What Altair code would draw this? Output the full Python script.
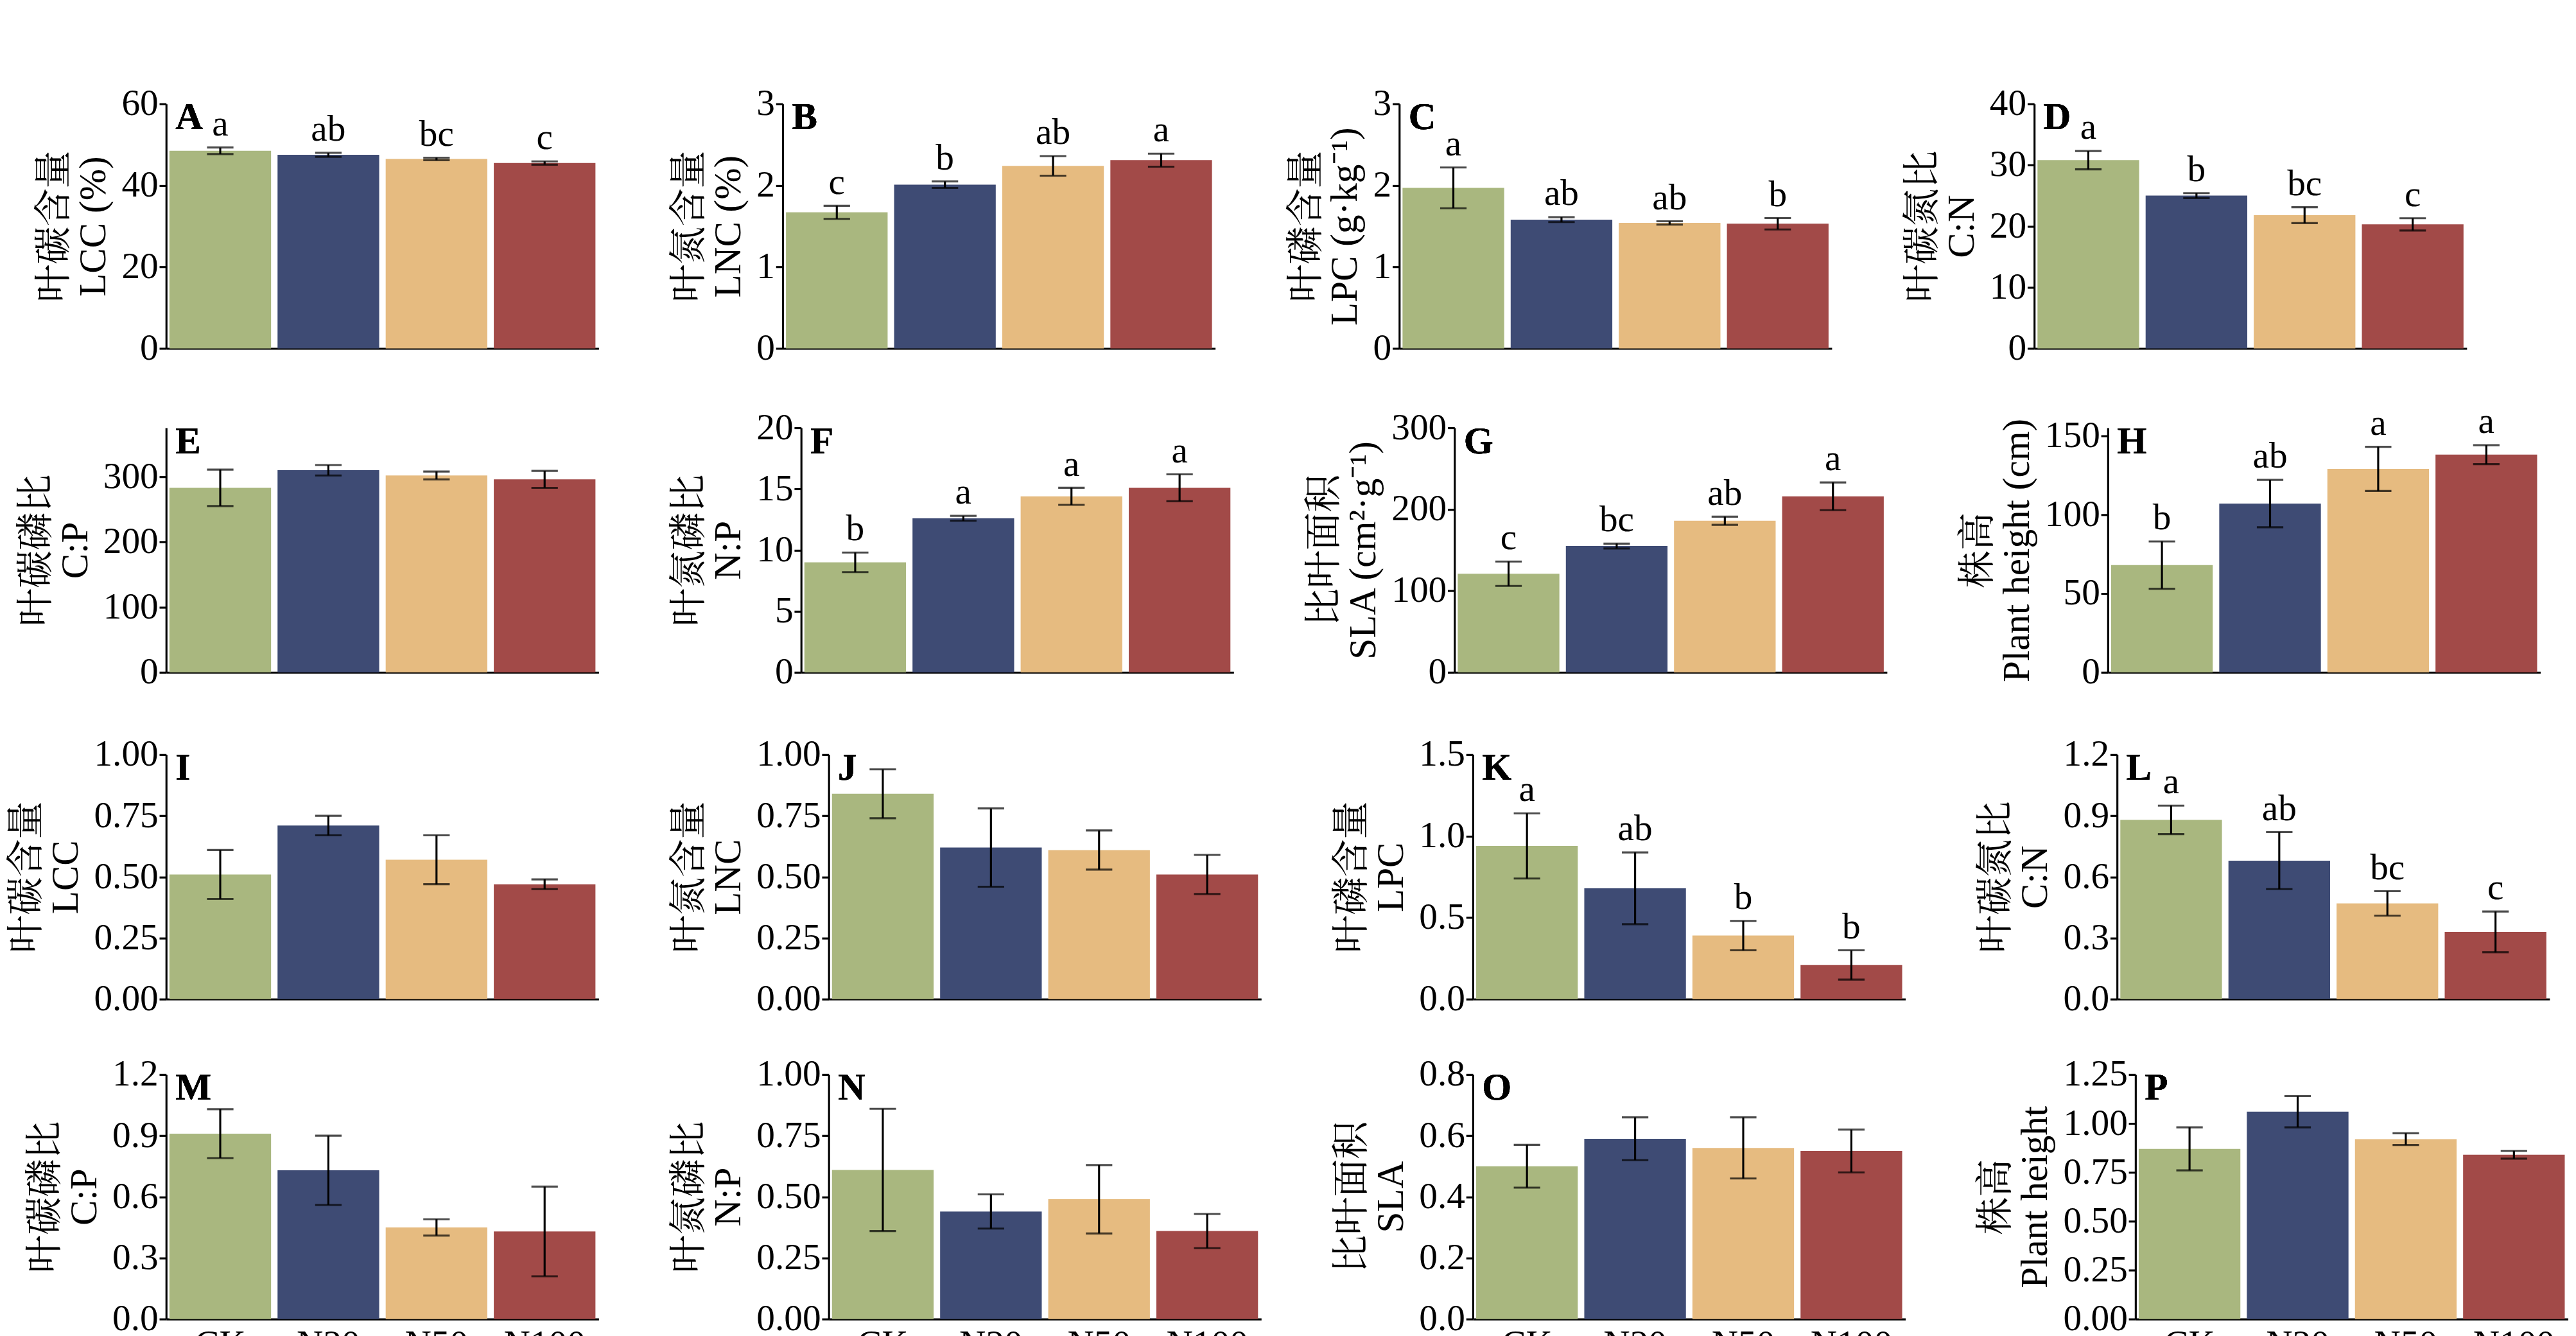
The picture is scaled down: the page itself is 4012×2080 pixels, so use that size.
import altair as alt
import pandas as pd

treatments = ["CK", "N20", "N50", "N100"]
colors = ["#a9b77f", "#3e4b74", "#e6bb80", "#a24a48"]

panels = ["A", "B", "C", "D", "E", "F", "G", "H", "I", "J", "K", "L", "M", "N", "O", "P"]
values = {
    "A": [48.5, 47.5, 46.5, 45.5], "B": [1.67, 2.01, 2.24, 2.31],
    "C": [1.97, 1.58, 1.54, 1.53], "D": [30.8, 25.0, 21.8, 20.3],
    "E": [283, 310, 302, 296], "F": [9.0, 12.6, 14.4, 15.1],
    "G": [121, 155, 186, 216], "H": [68, 107, 129, 138],
    "I": [0.51, 0.71, 0.57, 0.47], "J": [0.84, 0.62, 0.61, 0.51],
    "K": [0.94, 0.68, 0.39, 0.21], "L": [0.88, 0.68, 0.47, 0.33],
    "M": [0.91, 0.73, 0.45, 0.43], "N": [0.61, 0.44, 0.49, 0.36],
    "O": [0.50, 0.59, 0.56, 0.55], "P": [0.87, 1.06, 0.92, 0.84],
}
errors = {
    "A": [0.8, 0.5, 0.3, 0.4], "B": [0.08, 0.04, 0.12, 0.08],
    "C": [0.25, 0.03, 0.02, 0.07], "D": [1.5, 0.4, 1.3, 1.0],
    "E": [28, 8, 6, 13], "F": [0.8, 0.2, 0.7, 1.1],
    "G": [15, 3, 5, 17], "H": [15, 15, 14, 6],
    "I": [0.10, 0.04, 0.10, 0.02], "J": [0.10, 0.16, 0.08, 0.08],
    "K": [0.20, 0.22, 0.09, 0.09], "L": [0.07, 0.14, 0.06, 0.10],
    "M": [0.12, 0.17, 0.04, 0.22], "N": [0.25, 0.07, 0.14, 0.07],
    "O": [0.07, 0.07, 0.10, 0.07], "P": [0.11, 0.08, 0.03, 0.02],
}
letters = {
    "A": ["a", "ab", "bc", "c"], "B": ["c", "b", "ab", "a"],
    "C": ["a", "ab", "ab", "b"], "D": ["a", "b", "bc", "c"],
    "F": ["b", "a", "a", "a"], "G": ["c", "bc", "ab", "a"],
    "H": ["b", "ab", "a", "a"], "K": ["a", "ab", "b", "b"],
    "L": ["a", "ab", "bc", "c"],
}
titles = {
    "A": ["叶碳含量", "LCC (%)"], "B": ["叶氮含量", "LNC (%)"],
    "C": ["叶磷含量", "LPC (g·kg⁻¹)"], "D": ["叶碳氮比", "C:N"],
    "E": ["叶碳磷比", "C:P"], "F": ["叶氮磷比", "N:P"],
    "G": ["比叶面积", "SLA (cm²·g⁻¹)"], "H": ["株高", "Plant height (cm)"],
    "I": ["叶碳含量", "LCC"], "J": ["叶氮含量", "LNC"],
    "K": ["叶磷含量", "LPC"], "L": ["叶碳氮比", "C:N"],
    "M": ["叶碳磷比", "C:P"], "N": ["叶氮磷比", "N:P"],
    "O": ["比叶面积", "SLA"], "P": ["株高", "Plant height"],
}
ticks = {
    "A": ([0, 20, 40, 60], 60, "d"), "B": ([0, 1, 2, 3], 3, "d"),
    "C": ([0, 1, 2, 3], 3, "d"), "D": ([0, 10, 20, 30, 40], 40, "d"),
    "E": ([0, 100, 200, 300], 375, "d"), "F": ([0, 5, 10, 15, 20], 20, "d"),
    "G": ([0, 100, 200, 300], 300, "d"), "H": ([0, 50, 100, 150], 155, "d"),
    "I": ([0, 0.25, 0.5, 0.75, 1.0], 1.0, ".2f"), "J": ([0, 0.25, 0.5, 0.75, 1.0], 1.0, ".2f"),
    "K": ([0, 0.5, 1.0, 1.5], 1.5, ".1f"), "L": ([0, 0.3, 0.6, 0.9, 1.2], 1.2, ".1f"),
    "M": ([0, 0.3, 0.6, 0.9, 1.2], 1.2, ".1f"), "N": ([0, 0.25, 0.5, 0.75, 1.0], 1.0, ".2f"),
    "O": ([0, 0.2, 0.4, 0.6, 0.8], 0.8, ".1f"), "P": ([0, 0.25, 0.5, 0.75, 1.0, 1.25], 1.25, ".2f"),
}

FONT = "'Liberation Serif', 'Noto Serif CJK SC', 'Noto Sans CJK SC'"
W, H = 752, 425


def panel(p, bottom):
    df = pd.DataFrame({"t": treatments, "v": values[p], "e": errors[p]})
    df["lo"] = df["v"] - df["e"]
    df["hi"] = df["v"] + df["e"]
    df["lab"] = letters.get(p, [""] * 4)
    tv, top, fmt = ticks[p]
    x = alt.X("t:N", sort=treatments, title=None,
              scale=alt.Scale(paddingInner=0.06, paddingOuter=0.03),
              axis=alt.Axis(labels=bottom, ticks=False, labelAngle=0, labelPadding=12))
    y = alt.Y("v:Q", title=titles[p], scale=alt.Scale(domain=[0, top], nice=False),
              axis=alt.Axis(values=tv, format=fmt, tickSize=12, titlePadding=14))
    base = alt.Chart(df)
    bars = base.mark_bar().encode(
        x=x, y=y,
        color=alt.Color("t:N", sort=treatments, scale=alt.Scale(domain=treatments, range=colors), legend=None))
    rule = base.mark_rule(color="black", strokeWidth=3.5).encode(x=alt.X("t:N", sort=treatments), y="lo:Q", y2="hi:Q")
    cap_hi = base.mark_tick(color="black", thickness=3.5, size=46).encode(x=alt.X("t:N", sort=treatments), y="hi:Q")
    cap_lo = base.mark_tick(color="black", thickness=3.5, size=46).encode(x=alt.X("t:N", sort=treatments), y="lo:Q")
    txt = base.mark_text(baseline="bottom", dy=-8, fontSize=64, font=FONT).encode(
        x=alt.X("t:N", sort=treatments), y="hi:Q", text="lab:N")
    plab = base.mark_text(align="left", baseline="top", fontSize=66, fontWeight="bold", font=FONT).encode(
        x=alt.value(16), y=alt.value(-8), text=alt.value(p))
    return (bars + rule + cap_hi + cap_lo + txt + plab).properties(width=W, height=H)


rows = []
for r in range(4):
    rows.append(alt.hconcat(*[panel(panels[r * 4 + c], r == 3) for c in range(4)], spacing=125))

chart = alt.vconcat(*rows, spacing=64).properties(
    title=alt.TitleParams("处理 Treatment", orient="bottom", anchor="middle", fontSize=66,
                          font=FONT, fontWeight="normal", offset=20)
).configure_view(stroke=None).configure_axis(
    grid=False, domainColor="black", domainWidth=3.5, tickColor="black", tickWidth=3.5,
    labelFont=FONT, titleFont=FONT, labelFontSize=64, titleFontSize=66,
    labelColor="black", titleColor="black", titleFontWeight="normal"
)

chart.save("out.html", embed_options={"renderer": "svg", "actions": False})
